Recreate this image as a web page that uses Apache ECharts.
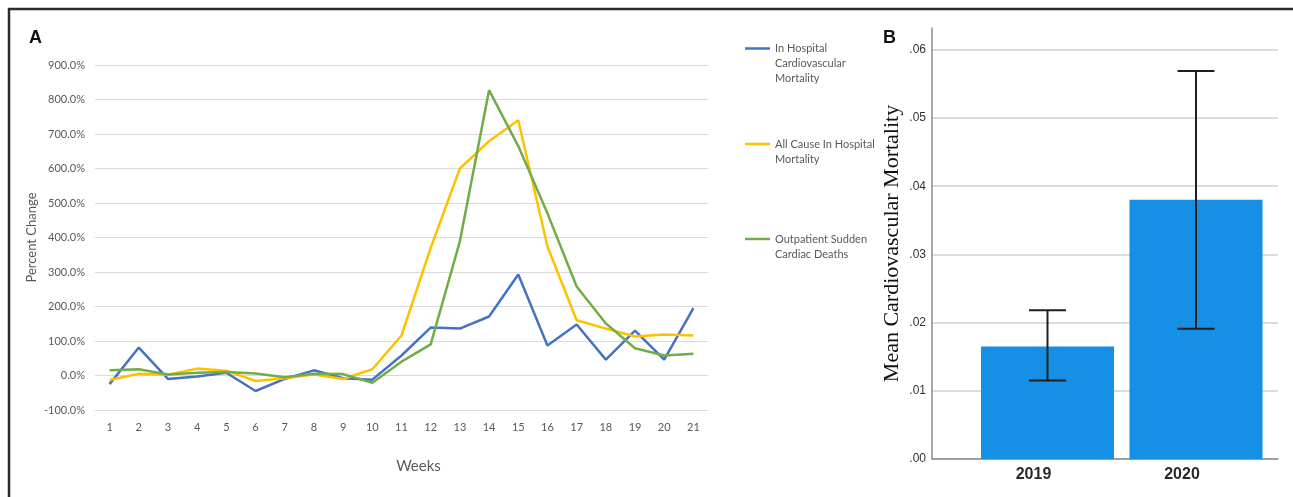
<!DOCTYPE html>
<html>
<head>
<meta charset="utf-8">
<script src="https://cdn.jsdelivr.net/npm/echarts@6/dist/echarts.min.js"></script>
<style>
  html, body { margin: 0; padding: 0; background: #fff; }
  #chart { width: 1293px; height: 497px; }
</style>
</head>
<body>
<div id="chart"></div>
<script>
// Panel A: weekly percent change
const weeks = ['1','2','3','4','5','6','7','8','9','10','11','12','13','14','15','16','17','18','19','20','21'];
const inHospitalCV = [-25, 81, -10, -3, 8, -45, -10, 15, -8, -12, 58, 139, 136, 171, 293, 87, 148, 46, 130, 46, 195];
const allCause = [-13, 5, 2, 20, 14, -16, -8, 3, -10, 18, 116, 370, 600, 679, 740, 374, 160, 136, 113, 119, 116];
const outpatientSCD = [15, 18, 3, 8, 10, 6, -5, 5, 4, -21, 40, 90, 389, 827, 665, 470, 258, 151, 79, 58, 63];

// Panel B: mean cardiovascular mortality with error bars
const years = ['2019', '2020'];
const meanMortality = [0.0165, 0.0380];
const errLow = [0.0115, 0.0191];
const errHigh = [0.0218, 0.0569];

const legendFont = { fontFamily: 'Lato', fontSize: 11, color: '#595959', lineHeight: 15 };

// legend text is centred on its icon, so blank lines on top put the first line level with the line icon
function legendItem(name, label, top) {
  const lines = label.split('\n');
  const pad = '\n'.repeat(lines.length - 1);
  return {
    data: [name], left: 745, top: top, padding: 0,
    icon: 'rect', itemWidth: 25, itemHeight: 2.5,
    formatter: () => pad + label,
    textStyle: legendFont
  };
}

const chart = echarts.init(document.getElementById('chart'));
chart.setOption({
  animation: false,
  backgroundColor: '#fff',
  graphic: [
    { type: 'rect', shape: { x: 9, y: 9, width: 1300, height: 500 }, style: { fill: 'none', stroke: '#2b2b2b', lineWidth: 2.5 } },
    { type: 'text', left: 29, top: 29, style: { text: 'A', font: 'bold 18px "Liberation Sans"', fill: '#111' } },
    { type: 'text', left: 883, top: 29, style: { text: 'B', font: 'bold 18px "Liberation Sans"', fill: '#111' } }
  ],
  legend: [
    legendItem('In Hospital Cardiovascular Mortality', 'In Hospital\nCardiovascular\nMortality', 11),
    legendItem('All Cause In Hospital Mortality', 'All Cause In Hospital\nMortality', 121.5),
    legendItem('Outpatient Sudden Cardiac Deaths', 'Outpatient Sudden\nCardiac Deaths', 216.5)
  ],
  grid: [
    { left: 95, right: 585, top: 65, bottom: 87 },
    { left: 932, right: 15, top: 28, bottom: 38 },
    { left: 973.25, right: 22.75, top: 28, bottom: 38 }
  ],
  xAxis: [
    {
      gridIndex: 0, type: 'category', data: weeks, boundaryGap: true,
      axisLine: { show: false }, axisTick: { show: false },
      axisLabel: { color: '#595959', fontFamily: 'Lato', fontSize: 11, margin: 12 },
      name: 'Weeks', nameLocation: 'middle', nameGap: 49,
      nameTextStyle: { color: '#595959', fontFamily: 'Lato', fontSize: 15, padding: [0, 0, 0, 34] }
    },
    {
      gridIndex: 1, type: 'value', min: 0, max: 1,
      axisLine: { show: true, lineStyle: { color: '#8c8c8c', width: 1.5 } },
      axisTick: { show: false }, axisLabel: { show: false }, splitLine: { show: false }
    },
    {
      gridIndex: 2, type: 'category', data: years,
      axisLine: { show: false }, axisTick: { show: false },
      axisLabel: { color: '#2a2a2a', fontFamily: 'Liberation Sans', fontWeight: 'bold', fontSize: 16, margin: 8, padding: [0, 28, 0, 0] }
    }
  ],
  yAxis: [
    {
      gridIndex: 0, type: 'value', min: -100, max: 900, interval: 100,
      axisLine: { show: false }, axisTick: { show: false },
      axisLabel: { color: '#595959', fontFamily: 'Lato', fontSize: 11, margin: 10, formatter: v => v.toFixed(1) + '%' },
      splitLine: { lineStyle: { color: '#d9d9d9', width: 1 } },
      name: 'Percent Change', nameLocation: 'middle', nameGap: 57,
      nameTextStyle: { color: '#595959', fontFamily: 'Lato', fontSize: 13 }
    },
    {
      gridIndex: 1, type: 'value', min: 0, max: 0.0632, interval: 0.01,
      axisLine: { show: true, lineStyle: { color: '#8c8c8c', width: 1.5 } },
      axisTick: { show: false },
      axisLabel: { color: '#333', fontFamily: 'Liberation Sans', fontSize: 12, margin: 6, showMaxLabel: false,
        formatter: v => v.toFixed(2).replace(/^0/, '') },
      splitLine: { showMaxLine: false, lineStyle: { color: '#cfcfcf', width: 1.5 } },
      name: 'Mean Cardiovascular Mortality', nameLocation: 'middle', nameGap: 29,
      nameTextStyle: { color: '#111', fontFamily: 'Liberation Serif', fontSize: 22 }
    },
    {
      gridIndex: 2, type: 'value', min: 0, max: 0.0632, show: false
    }
  ],
  series: [
    { name: 'In Hospital Cardiovascular Mortality', type: 'line', xAxisIndex: 0, yAxisIndex: 0, data: inHospitalCV,
      symbol: 'none', lineStyle: { color: '#4472C4', width: 2.5 }, itemStyle: { color: '#4472C4' } },
    { name: 'All Cause In Hospital Mortality', type: 'line', xAxisIndex: 0, yAxisIndex: 0, data: allCause,
      symbol: 'none', lineStyle: { color: '#FFC000', width: 2.5 }, itemStyle: { color: '#FFC000' } },
    { name: 'Outpatient Sudden Cardiac Deaths', type: 'line', xAxisIndex: 0, yAxisIndex: 0, data: outpatientSCD,
      symbol: 'none', lineStyle: { color: '#70AD47', width: 2.5 }, itemStyle: { color: '#70AD47' } },
    { name: 'Mean', type: 'bar', xAxisIndex: 2, yAxisIndex: 2, data: meanMortality, barWidth: 133,
      itemStyle: { color: '#1590E5' } },
    {
      name: 'Error', type: 'custom', xAxisIndex: 2, yAxisIndex: 2,
      data: years.map((y, i) => [i, errLow[i], errHigh[i]]),
      renderItem: function (params, api) {
        const lo = api.coord([api.value(0), api.value(1)]);
        const hi = api.coord([api.value(0), api.value(2)]);
        const hw = 18.5;
        const style = { stroke: '#1e1e1e', lineWidth: 2 };
        return {
          type: 'group',
          children: [
            { type: 'line', shape: { x1: hi[0], y1: hi[1], x2: lo[0], y2: lo[1] }, style },
            { type: 'line', shape: { x1: hi[0] - hw, y1: hi[1], x2: hi[0] + hw, y2: hi[1] }, style },
            { type: 'line', shape: { x1: lo[0] - hw, y1: lo[1], x2: lo[0] + hw, y2: lo[1] }, style }
          ]
        };
      },
      z: 5
    }
  ]
});
</script>
</body>
</html>
